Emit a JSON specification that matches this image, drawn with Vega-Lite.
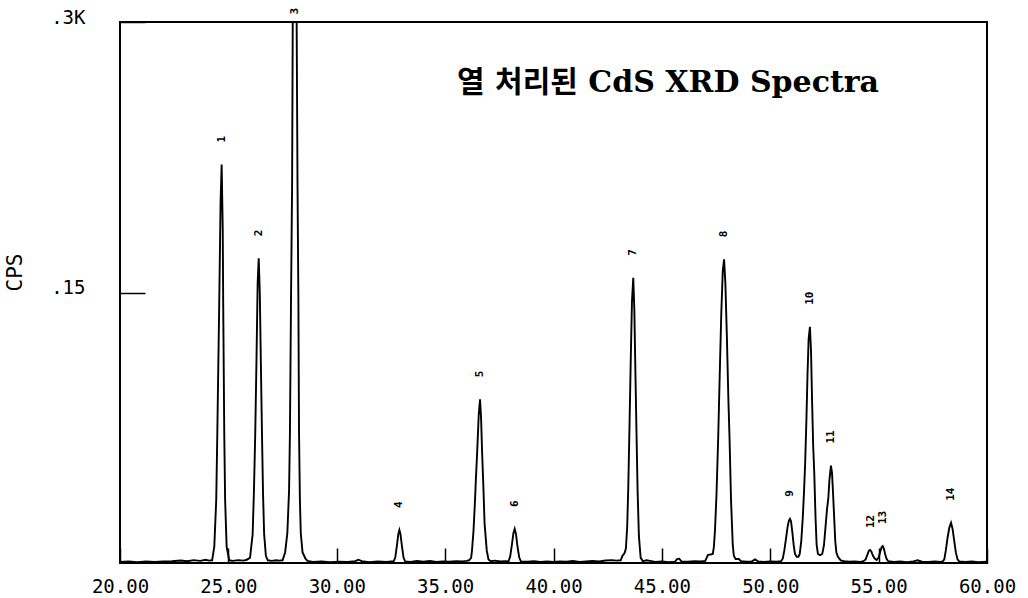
{
  "$schema": "https://vega.github.io/schema/vega-lite/v6.json",
  "width": 867,
  "height": 541,
  "autosize": {"type": "none"},
  "padding": {"left": 120, "top": 22, "right": 41, "bottom": 35},
  "background": "white",
  "config": {
    "view": {"stroke": "black", "strokeWidth": 2},
    "axis": {"grid": false, "domain": false}
  },
  "title": {
    "text": "열 처리된 CdS XRD Spectra",
    "anchor": "start",
    "frame": "group",
    "orient": "top",
    "offset": 0,
    "dx": 337,
    "dy": 114,
    "baseline": "alphabetic",
    "font": "DejaVu Serif, Noto Sans CJK KR",
    "fontSize": 30,
    "fontWeight": "bold",
    "color": "black"
  },
  "datasets": {
    "spectrum": [
      {"two_theta": 20.00, "cps": 0.6}, {"two_theta": 20.40, "cps": 0.8}, {"two_theta": 20.80, "cps": 0.5},
      {"two_theta": 21.20, "cps": 0.9}, {"two_theta": 21.60, "cps": 0.6}, {"two_theta": 22.00, "cps": 0.8},
      {"two_theta": 22.40, "cps": 1.0}, {"two_theta": 22.80, "cps": 1.4}, {"two_theta": 23.10, "cps": 1.0},
      {"two_theta": 23.40, "cps": 1.6}, {"two_theta": 23.70, "cps": 1.2}, {"two_theta": 23.95, "cps": 1.8},
      {"two_theta": 24.10, "cps": 1.3},
      {"two_theta": 24.25, "cps": 1.5}, {"two_theta": 24.35, "cps": 9}, {"two_theta": 24.44, "cps": 35},
      {"two_theta": 24.49, "cps": 72}, {"two_theta": 24.58, "cps": 146}, {"two_theta": 24.64, "cps": 200},
      {"two_theta": 24.69, "cps": 221}, {"two_theta": 24.74, "cps": 185}, {"two_theta": 24.76, "cps": 146},
      {"two_theta": 24.81, "cps": 72}, {"two_theta": 24.85, "cps": 35}, {"two_theta": 24.92, "cps": 9},
      {"two_theta": 25.04, "cps": 1.5},
      {"two_theta": 25.20, "cps": 1.2}, {"two_theta": 25.45, "cps": 1.6}, {"two_theta": 25.70, "cps": 1.3},
      {"two_theta": 25.85, "cps": 1.8},
      {"two_theta": 26.00, "cps": 3}, {"two_theta": 26.12, "cps": 16}, {"two_theta": 26.18, "cps": 40},
      {"two_theta": 26.24, "cps": 72}, {"two_theta": 26.30, "cps": 115}, {"two_theta": 26.35, "cps": 155},
      {"two_theta": 26.40, "cps": 169}, {"two_theta": 26.45, "cps": 150}, {"two_theta": 26.50, "cps": 110},
      {"two_theta": 26.55, "cps": 72}, {"two_theta": 26.60, "cps": 38}, {"two_theta": 26.65, "cps": 16},
      {"two_theta": 26.73, "cps": 4}, {"two_theta": 26.82, "cps": 1.5},
      {"two_theta": 27.00, "cps": 1.2}, {"two_theta": 27.20, "cps": 1.5}, {"two_theta": 27.35, "cps": 1.3},
      {"two_theta": 27.50, "cps": 1.5}, {"two_theta": 27.62, "cps": 6}, {"two_theta": 27.72, "cps": 16.6},
      {"two_theta": 27.80, "cps": 40}, {"two_theta": 27.84, "cps": 72}, {"two_theta": 27.89, "cps": 146},
      {"two_theta": 27.94, "cps": 210}, {"two_theta": 27.97, "cps": 300}, {"two_theta": 28.06, "cps": 370},
      {"two_theta": 28.15, "cps": 300}, {"two_theta": 28.19, "cps": 210}, {"two_theta": 28.23, "cps": 146},
      {"two_theta": 28.26, "cps": 72}, {"two_theta": 28.30, "cps": 35}, {"two_theta": 28.34, "cps": 16.6},
      {"two_theta": 28.42, "cps": 6}, {"two_theta": 28.55, "cps": 2.5}, {"two_theta": 28.65, "cps": 1.2},
      {"two_theta": 28.90, "cps": 0.6}, {"two_theta": 29.30, "cps": 0.8}, {"two_theta": 29.70, "cps": 0.5},
      {"two_theta": 30.10, "cps": 0.7}, {"two_theta": 30.50, "cps": 0.6}, {"two_theta": 30.85, "cps": 1.0},
      {"two_theta": 31.00, "cps": 1.8}, {"two_theta": 31.15, "cps": 1.0}, {"two_theta": 31.50, "cps": 0.5},
      {"two_theta": 31.90, "cps": 0.8}, {"two_theta": 32.30, "cps": 0.6}, {"two_theta": 32.50, "cps": 0.9},
      {"two_theta": 32.62, "cps": 0.8}, {"two_theta": 32.70, "cps": 3}, {"two_theta": 32.78, "cps": 10},
      {"two_theta": 32.84, "cps": 16}, {"two_theta": 32.89, "cps": 18.3}, {"two_theta": 32.94, "cps": 16},
      {"two_theta": 33.00, "cps": 10}, {"two_theta": 33.08, "cps": 3}, {"two_theta": 33.16, "cps": 0.8},
      {"two_theta": 33.40, "cps": 0.6}, {"two_theta": 33.70, "cps": 1.1}, {"two_theta": 34.00, "cps": 0.7},
      {"two_theta": 34.30, "cps": 1.2}, {"two_theta": 34.60, "cps": 0.6}, {"two_theta": 34.90, "cps": 0.8},
      {"two_theta": 35.20, "cps": 0.7}, {"two_theta": 35.50, "cps": 1.0}, {"two_theta": 35.80, "cps": 0.9},
      {"two_theta": 36.00, "cps": 1.2},
      {"two_theta": 36.10, "cps": 1.5}, {"two_theta": 36.20, "cps": 2.8}, {"two_theta": 36.24, "cps": 7},
      {"two_theta": 36.31, "cps": 18}, {"two_theta": 36.38, "cps": 35}, {"two_theta": 36.41, "cps": 44},
      {"two_theta": 36.48, "cps": 62}, {"two_theta": 36.55, "cps": 82}, {"two_theta": 36.61, "cps": 90.8},
      {"two_theta": 36.66, "cps": 80}, {"two_theta": 36.71, "cps": 60}, {"two_theta": 36.76, "cps": 44},
      {"two_theta": 36.82, "cps": 22}, {"two_theta": 36.92, "cps": 7}, {"two_theta": 37.00, "cps": 2},
      {"two_theta": 37.10, "cps": 1},
      {"two_theta": 37.30, "cps": 1.3}, {"two_theta": 37.55, "cps": 0.8}, {"two_theta": 37.80, "cps": 1.0},
      {"two_theta": 37.92, "cps": 0.8}, {"two_theta": 38.00, "cps": 3.5}, {"two_theta": 38.08, "cps": 10},
      {"two_theta": 38.15, "cps": 16.5}, {"two_theta": 38.21, "cps": 18.9}, {"two_theta": 38.27, "cps": 16},
      {"two_theta": 38.34, "cps": 9}, {"two_theta": 38.42, "cps": 3}, {"two_theta": 38.50, "cps": 0.8},
      {"two_theta": 38.80, "cps": 0.7}, {"two_theta": 39.10, "cps": 1.0}, {"two_theta": 39.40, "cps": 0.6},
      {"two_theta": 39.70, "cps": 0.9}, {"two_theta": 40.00, "cps": 0.6}, {"two_theta": 40.30, "cps": 0.8},
      {"two_theta": 40.60, "cps": 0.7}, {"two_theta": 40.90, "cps": 1.1}, {"two_theta": 41.20, "cps": 0.6},
      {"two_theta": 41.50, "cps": 0.9}, {"two_theta": 41.80, "cps": 1.2}, {"two_theta": 42.10, "cps": 0.8},
      {"two_theta": 42.40, "cps": 1.4}, {"two_theta": 42.70, "cps": 1.6}, {"two_theta": 42.90, "cps": 1.3},
      {"two_theta": 43.10, "cps": 1.5}, {"two_theta": 43.18, "cps": 4}, {"two_theta": 43.28, "cps": 5.5},
      {"two_theta": 43.34, "cps": 8}, {"two_theta": 43.40, "cps": 20}, {"two_theta": 43.45, "cps": 42},
      {"two_theta": 43.50, "cps": 72}, {"two_theta": 43.56, "cps": 110}, {"two_theta": 43.62, "cps": 145},
      {"two_theta": 43.68, "cps": 158.2}, {"two_theta": 43.73, "cps": 140}, {"two_theta": 43.78, "cps": 105},
      {"two_theta": 43.83, "cps": 72}, {"two_theta": 43.88, "cps": 40}, {"two_theta": 43.94, "cps": 15},
      {"two_theta": 44.02, "cps": 3}, {"two_theta": 44.12, "cps": 1},
      {"two_theta": 44.30, "cps": 1.5}, {"two_theta": 44.45, "cps": 1.2}, {"two_theta": 44.70, "cps": 0.6},
      {"two_theta": 45.00, "cps": 0.8}, {"two_theta": 45.30, "cps": 0.5}, {"two_theta": 45.60, "cps": 0.7},
      {"two_theta": 45.70, "cps": 2.2}, {"two_theta": 45.80, "cps": 2.4}, {"two_theta": 45.90, "cps": 0.9},
      {"two_theta": 46.20, "cps": 0.7}, {"two_theta": 46.50, "cps": 1.0}, {"two_theta": 46.80, "cps": 0.8},
      {"two_theta": 47.00, "cps": 1.2}, {"two_theta": 47.07, "cps": 3}, {"two_theta": 47.12, "cps": 4.4},
      {"two_theta": 47.35, "cps": 5}, {"two_theta": 47.40, "cps": 9}, {"two_theta": 47.45, "cps": 18},
      {"two_theta": 47.52, "cps": 38}, {"two_theta": 47.60, "cps": 70}, {"two_theta": 47.67, "cps": 105},
      {"two_theta": 47.74, "cps": 138}, {"two_theta": 47.81, "cps": 162}, {"two_theta": 47.87, "cps": 168.4},
      {"two_theta": 47.93, "cps": 155}, {"two_theta": 48.00, "cps": 125}, {"two_theta": 48.07, "cps": 90},
      {"two_theta": 48.12, "cps": 70}, {"two_theta": 48.19, "cps": 35}, {"two_theta": 48.27, "cps": 10},
      {"two_theta": 48.32, "cps": 4}, {"two_theta": 48.40, "cps": 2.2}, {"two_theta": 48.55, "cps": 2.2},
      {"two_theta": 48.65, "cps": 1},
      {"two_theta": 48.90, "cps": 0.7}, {"two_theta": 49.15, "cps": 0.9}, {"two_theta": 49.30, "cps": 2.0},
      {"two_theta": 49.45, "cps": 0.8}, {"two_theta": 49.70, "cps": 0.6}, {"two_theta": 50.00, "cps": 0.9},
      {"two_theta": 50.30, "cps": 0.7},
      {"two_theta": 50.50, "cps": 1}, {"two_theta": 50.58, "cps": 2.5}, {"two_theta": 50.65, "cps": 7},
      {"two_theta": 50.72, "cps": 13}, {"two_theta": 50.80, "cps": 20}, {"two_theta": 50.86, "cps": 23.5},
      {"two_theta": 50.91, "cps": 24.5}, {"two_theta": 50.96, "cps": 23}, {"two_theta": 51.02, "cps": 17},
      {"two_theta": 51.08, "cps": 10}, {"two_theta": 51.14, "cps": 5}, {"two_theta": 51.22, "cps": 3.5},
      {"two_theta": 51.30, "cps": 3.5}, {"two_theta": 51.36, "cps": 5}, {"two_theta": 51.43, "cps": 12},
      {"two_theta": 51.50, "cps": 25}, {"two_theta": 51.56, "cps": 40}, {"two_theta": 51.61, "cps": 55},
      {"two_theta": 51.67, "cps": 80}, {"two_theta": 51.72, "cps": 105}, {"two_theta": 51.77, "cps": 124},
      {"two_theta": 51.83, "cps": 131}, {"two_theta": 51.88, "cps": 118}, {"two_theta": 51.93, "cps": 90},
      {"two_theta": 51.98, "cps": 65}, {"two_theta": 52.03, "cps": 50}, {"two_theta": 52.09, "cps": 25},
      {"two_theta": 52.14, "cps": 10}, {"two_theta": 52.20, "cps": 5}, {"two_theta": 52.30, "cps": 4.4},
      {"two_theta": 52.40, "cps": 5}, {"two_theta": 52.48, "cps": 10}, {"two_theta": 52.55, "cps": 20},
      {"two_theta": 52.62, "cps": 30}, {"two_theta": 52.68, "cps": 36}, {"two_theta": 52.73, "cps": 46},
      {"two_theta": 52.80, "cps": 54}, {"two_theta": 52.85, "cps": 50}, {"two_theta": 52.90, "cps": 38},
      {"two_theta": 52.95, "cps": 25}, {"two_theta": 53.00, "cps": 12}, {"two_theta": 53.05, "cps": 6},
      {"two_theta": 53.12, "cps": 3.5}, {"two_theta": 53.25, "cps": 1.5}, {"two_theta": 53.40, "cps": 1},
      {"two_theta": 53.65, "cps": 0.7}, {"two_theta": 53.90, "cps": 0.9}, {"two_theta": 54.15, "cps": 0.6},
      {"two_theta": 54.30, "cps": 1}, {"two_theta": 54.40, "cps": 2}, {"two_theta": 54.48, "cps": 4.5},
      {"two_theta": 54.55, "cps": 6.8}, {"two_theta": 54.60, "cps": 7.2}, {"two_theta": 54.66, "cps": 6.5},
      {"two_theta": 54.74, "cps": 4}, {"two_theta": 54.82, "cps": 2.5}, {"two_theta": 54.91, "cps": 1.7},
      {"two_theta": 55.00, "cps": 3}, {"two_theta": 55.08, "cps": 6.5}, {"two_theta": 55.14, "cps": 8.8},
      {"two_theta": 55.19, "cps": 9.4}, {"two_theta": 55.24, "cps": 8}, {"two_theta": 55.30, "cps": 5},
      {"two_theta": 55.36, "cps": 2.5}, {"two_theta": 55.44, "cps": 1},
      {"two_theta": 55.70, "cps": 0.6}, {"two_theta": 56.00, "cps": 0.8}, {"two_theta": 56.30, "cps": 0.5},
      {"two_theta": 56.60, "cps": 0.9}, {"two_theta": 56.80, "cps": 1.5}, {"two_theta": 57.00, "cps": 0.7},
      {"two_theta": 57.30, "cps": 0.6}, {"two_theta": 57.60, "cps": 0.9}, {"two_theta": 57.85, "cps": 0.6},
      {"two_theta": 57.95, "cps": 0.8}, {"two_theta": 58.03, "cps": 2}, {"two_theta": 58.10, "cps": 7},
      {"two_theta": 58.18, "cps": 14}, {"two_theta": 58.26, "cps": 19.5}, {"two_theta": 58.34, "cps": 22.3},
      {"two_theta": 58.41, "cps": 19}, {"two_theta": 58.48, "cps": 13}, {"two_theta": 58.56, "cps": 6},
      {"two_theta": 58.64, "cps": 2}, {"two_theta": 58.72, "cps": 0.8},
      {"two_theta": 59.00, "cps": 0.6}, {"two_theta": 59.30, "cps": 0.8}, {"two_theta": 59.60, "cps": 0.5},
      {"two_theta": 60.00, "cps": 0.7}
    ],
    "peaks": [
      {"peak": "1", "two_theta": 24.69, "cps": 221},
      {"peak": "2", "two_theta": 26.40, "cps": 169},
      {"peak": "3", "two_theta": 28.06, "cps": 292},
      {"peak": "4", "two_theta": 32.89, "cps": 18.3},
      {"peak": "5", "two_theta": 36.61, "cps": 90.8},
      {"peak": "6", "two_theta": 38.21, "cps": 18.9},
      {"peak": "7", "two_theta": 43.68, "cps": 158.2},
      {"peak": "8", "two_theta": 47.87, "cps": 168.4},
      {"peak": "9", "two_theta": 50.91, "cps": 24.5},
      {"peak": "10", "two_theta": 51.83, "cps": 131},
      {"peak": "11", "two_theta": 52.80, "cps": 54},
      {"peak": "12", "two_theta": 54.64, "cps": 7.2},
      {"peak": "13", "two_theta": 55.19, "cps": 9.4},
      {"peak": "14", "two_theta": 58.34, "cps": 22.3}
    ]
  },
  "layer": [
    {
      "data": {"name": "spectrum"},
      "mark": {"type": "line", "color": "black", "strokeWidth": 1.9, "clip": true},
      "encoding": {
        "x": {
          "field": "two_theta",
          "type": "quantitative",
          "scale": {"domain": [20, 60], "nice": false, "zero": false},
          "axis": {
            "values": [20, 25, 30, 35, 40, 45, 50, 55, 60],
            "format": ".2f",
            "title": null,
            "tickSize": -15,
            "tickColor": "black",
            "tickWidth": 1.5,
            "labelPadding": 29,
            "labelFont": "DejaVu Sans Mono",
            "labelFontSize": 19,
            "labelColor": "black",
            "labelFlush": false,
            "labelOverlap": false
          }
        },
        "y": {
          "field": "cps",
          "type": "quantitative",
          "scale": {"domain": [0, 300], "nice": false},
          "axis": {
            "values": [150, 300],
            "labelExpr": "datum.value >= 300 ? '.3K' : '.15'",
            "tickSize": -25,
            "tickColor": "black",
            "tickWidth": 1.5,
            "labelPadding": 60,
            "labelAlign": "right",
            "labelBaseline": "alphabetic",
            "labelOffset": 1,
            "labelFont": "DejaVu Sans Mono",
            "labelFontSize": 19,
            "labelColor": "black",
            "labelOverlap": false,
            "title": "CPS",
            "titleFont": "DejaVu Sans Mono",
            "titleFontSize": 21,
            "titleFontWeight": "normal",
            "titleColor": "black",
            "titleAngle": 270,
            "titleAlign": "center",
            "titleBaseline": "middle",
            "titleX": -105,
            "titleY": 250
          }
        }
      }
    },
    {
      "data": {"name": "peaks"},
      "mark": {"type": "text", "angle": 270, "align": "left", "baseline": "middle", "dx": 22, "font": "DejaVu Sans Mono", "fontSize": 11, "fontWeight": "bold", "color": "black"},
      "encoding": {
        "x": {"field": "two_theta", "type": "quantitative"},
        "y": {"field": "cps", "type": "quantitative"},
        "text": {"field": "peak"}
      }
    }
  ]
}
